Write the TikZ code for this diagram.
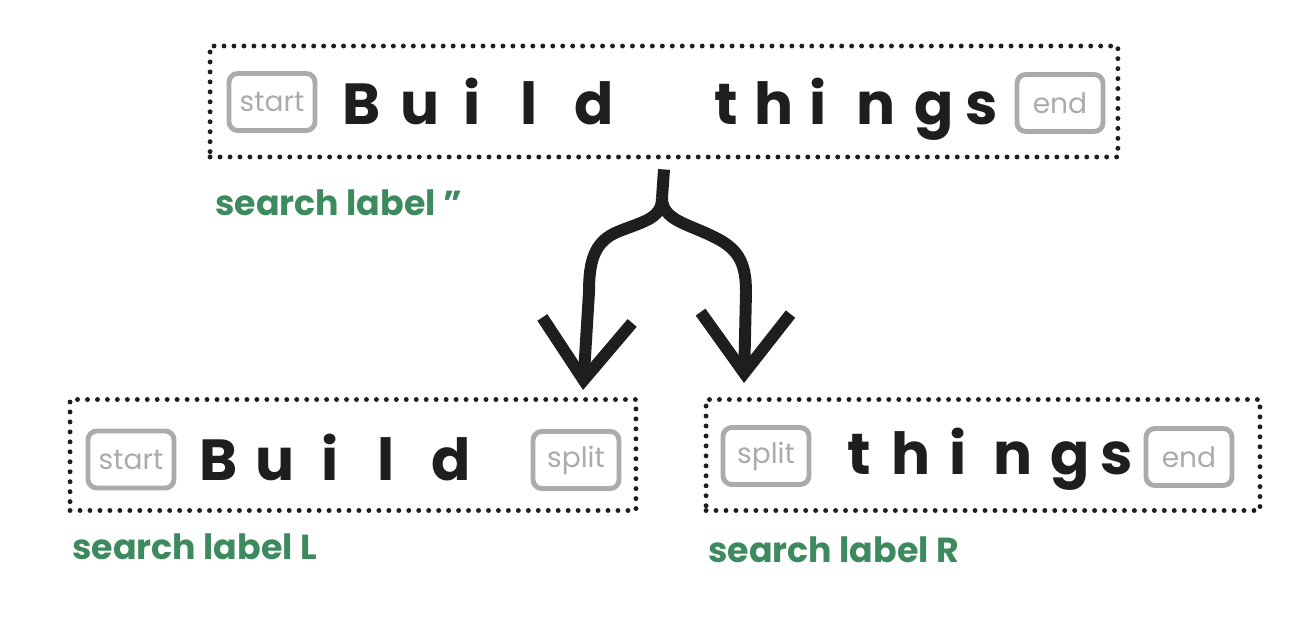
\documentclass[tikz,border=0pt]{standalone}
\usepackage{fontspec}
\setmainfont{Poppins}
\usetikzlibrary{arrows.meta,positioning}
\definecolor{labelgreen}{HTML}{3D8A5F}
\definecolor{taggray}{HTML}{ABABAB}
\definecolor{inkblack}{HTML}{1E1E1E}
\begin{document}
\begin{tikzpicture}[x=0.02cm,y=-0.02cm,every node/.append style={inner sep=0pt},
    wordbox/.style={draw=inkblack,line width=2.8pt,dash pattern=on 0pt off 5.67pt,
                    line cap=round,minimum height=2.22cm},
    tagbox/.style={draw=taggray,line width=2.8pt,rounded corners=5pt,minimum width=1.72cm,
                   minimum height=1.14cm,text=taggray,font=\fontsize{16}{18}\selectfont},
    bigletter/.style={anchor=base,text=inkblack,font=\fontsize{33}{36}\selectfont\bfseries},
    searchlabel/.style={anchor=base west,text=labelgreen,font=\fontsize{19.8}{22}\selectfont\bfseries},
    forkline/.style={draw=inkblack,line width=6.8pt},
    forkarrow/.style={forkline,-{Straight Barb[length=1.2cm,width=1.8cm]}}]
    \useasboundingbox (0,0) rectangle (1314,618);
    % dotted word boxes
    \node[wordbox,minimum width=18.16cm] (topbox) at (664,101.5) {};
    \node[wordbox,minimum width=11.32cm] (leftbox) at (353,455) {};
    \node[wordbox,minimum width=11.08cm] (rightbox) at (983,455) {};
    % tags
    \node[tagbox] (topstart) at (272,102) {start};
    \node[tagbox] (topend) at (1060,103) {end};
    \node[tagbox] (leftstart) at (131,459.5) {start};
    \node[tagbox] (leftsplit) at (576,460) {split};
    \node[tagbox] (rightsplit) at (766,456) {split};
    \node[tagbox] (rightend) at (1189,457) {end};
    % letters
    \foreach \ch/\x [count=\k] in {B/362,u/420,i/472,l/529,d/594}
      \node[bigletter] (tb\k) at (\x,125) {\ch};
    \foreach \ch/\x [count=\k] in {t/726,h/774,i/818,n/876,g/934,s/982}
      \node[bigletter] (tt\k) at (\x,125) {\ch};
    \foreach \ch/\x [count=\k] in {B/219,u/275,i/330,l/386,d/451}
      \node[bigletter] (lb\k) at (\x,480) {\ch};
    \foreach \ch/\x [count=\k] in {t/859,h/911,i/958,n/1013,g/1070,s/1117}
      \node[bigletter] (rt\k) at (\x,474) {\ch};
    % labels
    \node[searchlabel] (toplabel) at (215,215) {search label \symbol{34}};
    \node[searchlabel] (leftlabel) at (72,559) {search label L};
    \node[searchlabel] (rightlabel) at (708,562) {search label R};
    % split arrow
    \coordinate (stem) at ([yshift=-0.2cm]topbox.south);
    \coordinate (fork) at (662,198);
    \coordinate (ltip) at (583,390);
    \coordinate (rtip) at (744,383);
    \draw[forkline] (stem) -- (fork);
    \draw[forkarrow] (fork) .. controls (662,220) and (640,222) .. (615,233)
                            .. controls (594,243) and (589,262) .. (589,292) -- (ltip);
    \draw[forkarrow] (fork) .. controls (662,220) and (688,224) .. (712,236)
                            .. controls (738,248) and (746,262) .. (746,292) -- (rtip);
\end{tikzpicture}
\end{document}
